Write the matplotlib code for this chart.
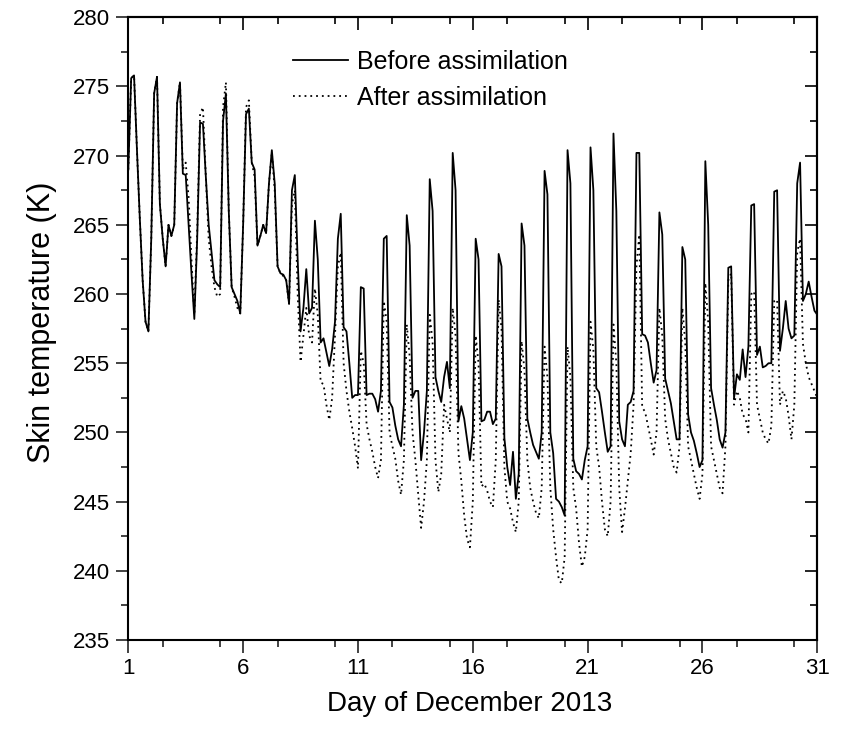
import numpy as np
import matplotlib
matplotlib.use("Agg")
import matplotlib.pyplot as plt
from matplotlib.ticker import MultipleLocator, FixedLocator

plt.rcParams['font.family'] = ['Liberation Sans', 'DejaVu Sans']

# 3-hourly samples, 1 Dec 00:00 to 31 Dec 00:00
start_day = 1
steps_per_day = 8

before_assim = [
    269.0, 275.6, 275.8, 270.5, 265.5, 261.0, 258.0, 257.3,   # day 1
    264.0, 274.5, 275.7, 266.5, 264.0, 262.0, 265.0, 264.2,   # day 2
    265.0, 273.8, 275.3, 268.7, 268.6, 265.0, 261.5, 258.2,   # day 3
    264.0, 272.4, 272.3, 268.5, 265.0, 263.0, 261.0, 260.7,   # day 4
    260.5, 272.5, 274.5, 266.0, 260.5, 260.0, 259.5, 258.6,   # day 5
    265.0, 273.0, 273.4, 269.5, 269.0, 263.5, 264.2, 265.0,   # day 6
    264.4, 268.0, 270.4, 268.0, 262.0, 261.5, 261.4, 261.0,   # day 7
    259.3, 267.5, 268.6, 262.5, 257.3, 259.0, 261.8, 258.6,   # day 8
    259.0, 265.3, 262.5, 256.5, 256.8, 255.8, 254.8, 256.0,   # day 9
    258.0, 264.0, 265.8, 257.6, 257.3, 255.0, 252.5, 252.7,   # day 10
    252.7, 260.5, 260.4, 252.7, 252.8, 252.8, 252.4, 251.5,   # day 11
    253.0, 264.0, 264.2, 252.2, 251.8, 250.5, 249.5, 249.0,   # day 12
    252.0, 265.7, 263.5, 252.5, 253.0, 253.0, 248.0, 250.0,   # day 13
    253.0, 268.3, 266.0, 254.0, 253.0, 252.2, 254.0, 255.1,   # day 14
    253.2, 270.2, 267.5, 250.8, 251.9, 251.0, 249.5, 248.0,   # day 15
    250.0, 264.0, 262.5, 250.8, 250.9, 251.5, 251.5, 250.6,   # day 16
    251.0, 262.9, 262.0, 249.6, 247.5, 246.2, 248.6, 245.2,   # day 17
    247.0, 265.1, 263.5, 251.0, 250.0, 249.1, 248.6, 248.1,   # day 18
    250.0, 268.9, 267.2, 250.0, 248.5, 245.2, 245.0, 244.6,   # day 19
    244.0, 270.4, 268.0, 248.1, 247.2, 247.0, 246.6, 248.0,   # day 20
    249.0, 270.6, 267.5, 253.2, 252.9, 251.5, 250.0, 248.6,   # day 21
    249.0, 271.6, 266.0, 250.8, 249.5, 249.0, 252.0, 252.2,   # day 22
    253.0, 270.2, 270.2, 257.1, 257.0, 256.5, 255.0, 253.6,   # day 23
    254.5, 265.9, 264.3, 253.9, 253.0, 252.1, 250.8, 249.5,   # day 24
    249.5, 263.4, 262.5, 251.3, 250.0, 249.4, 248.5, 247.5,   # day 25
    248.0, 269.6, 265.0, 253.2, 252.0, 250.9, 249.5, 248.9,   # day 26
    250.0, 261.9, 262.0, 252.5, 254.2, 253.8, 256.0, 254.0,   # day 27
    256.2, 266.4, 266.5, 255.6, 256.2, 254.7, 254.8, 255.0,   # day 28
    255.0, 267.4, 267.5, 255.9, 257.5, 259.5, 257.5, 256.8,   # day 29
    257.0, 268.0, 269.5, 259.5, 260.0, 260.9, 259.8, 258.8,   # day 30
    258.5,                                                     # day 31 00:00
]

after_assim = [
    269.0, 275.6, 275.8, 270.5, 265.5, 261.0, 258.0, 257.3,   # day 1
    264.0, 274.5, 275.7, 266.5, 264.0, 262.0, 265.0, 264.2,   # day 2
    265.0, 273.8, 275.3, 269.0, 269.5, 267.0, 262.5, 258.5,   # day 3
    264.5, 273.0, 273.5, 268.5, 264.0, 262.0, 260.5, 259.8,   # day 4
    260.0, 273.5, 275.3, 266.0, 260.5, 259.8, 259.0, 258.6,   # day 5
    265.0, 273.5, 274.0, 269.5, 268.5, 263.5, 264.2, 265.0,   # day 6
    264.4, 268.0, 270.2, 267.5, 262.0, 261.5, 261.3, 261.0,   # day 7
    259.3, 266.5, 267.5, 260.0, 255.1, 257.0, 259.0, 257.0,   # day 8
    256.5, 260.4, 258.5, 253.6, 253.5, 252.0, 250.9, 252.5,   # day 9
    257.0, 262.0, 263.0, 255.0, 253.0, 251.5, 250.3, 249.0,   # day 10
    247.4, 255.9, 255.0, 250.6, 249.5, 248.6, 247.5, 246.7,   # day 11
    248.0, 259.5, 258.0, 250.0, 249.0, 248.1, 246.5, 245.5,   # day 12
    248.0, 257.8, 255.5, 250.0, 248.0, 245.5, 243.1, 245.0,   # day 13
    248.0, 258.5, 256.5, 248.0, 245.7, 247.0, 252.0, 251.0,   # day 14
    250.0, 259.0, 257.0, 248.5, 246.5, 244.0, 242.3, 241.7,   # day 15
    245.0, 257.0, 255.0, 246.1, 246.3, 245.8, 245.0, 244.6,   # day 16
    248.0, 259.6, 257.5, 247.5, 245.0, 244.5, 243.5, 242.8,   # day 17
    245.0, 256.6, 254.5, 248.0, 246.0, 245.0, 244.2, 243.8,   # day 18
    246.0, 256.2, 254.0, 246.0, 243.0, 241.0, 239.3, 239.1,   # day 19
    241.0, 256.2, 254.0, 246.0, 244.5, 242.0, 240.3, 241.0,   # day 20
    243.0, 258.0, 256.0, 249.0, 247.5, 245.0, 243.0, 242.5,   # day 21
    245.0, 257.8, 255.0, 246.0, 242.8, 244.5, 246.5, 248.5,   # day 22
    252.0, 262.0, 264.3, 251.8, 251.5, 250.5, 249.5, 248.4,   # day 23
    250.0, 259.0, 257.0, 251.0, 249.5, 248.5, 247.5, 247.1,   # day 24
    249.0, 259.0, 256.5, 249.0, 248.0, 247.0, 246.0, 245.2,   # day 25
    247.0, 260.8, 258.0, 249.0, 248.0, 247.0, 246.0, 245.6,   # day 26
    249.0, 261.0, 261.5, 252.0, 253.0, 252.5, 251.3, 251.0,   # day 27
    250.0, 260.0, 260.2, 252.0, 251.0, 250.0, 249.5, 249.2,   # day 28
    250.5, 259.5, 259.6, 252.0, 253.0, 252.5, 251.2, 249.5,   # day 29
    252.0, 263.0, 264.0, 256.4, 255.0, 254.0, 253.5, 253.0,   # day 30
    252.5,                                                     # day 31 00:00
]

x_ticks = [1, 6, 11, 16, 21, 26, 31]
y_ticks = [235, 240, 245, 250, 255, 260, 265, 270, 275, 280]
series_labels = ["Before assimilation", "After assimilation"]
x_label = "Day of December 2013"
y_label = "Skin temperature (K)"

day = start_day + np.arange(len(before_assim)) / steps_per_day

W, H = 844, 738
fig = plt.figure(figsize=(W / 100, H / 100), dpi=100)
L, R, T, B = 128.3, 817.3, 17.3, 640.0
ax = fig.add_axes([L / W, 1 - B / H, (R - L) / W, (B - T) / H])

ax.plot(day, before_assim, color='black', lw=1.3, ls='-', label=series_labels[0])
ax.plot(day, after_assim, color='black', lw=1.3, ls=(0, (1, 2.2)), label=series_labels[1])

ax.set_xlim(1, 31)
ax.set_ylim(235, 280)
ax.xaxis.set_major_locator(FixedLocator(x_ticks))
ax.xaxis.set_minor_locator(MultipleLocator(2.5))
ax.yaxis.set_major_locator(FixedLocator(y_ticks))
ax.yaxis.set_minor_locator(MultipleLocator(2.5))
ax.tick_params(which='major', direction='out', length=9, width=1.2, labelsize=16, pad=4, color='#222222')
ax.tick_params(which='minor', direction='out', length=5, width=1.2, color='#222222')
for s in ax.spines.values():
    s.set_linewidth(1.5)

# mirrored inward ticks on top and right
top = ax.secondary_xaxis('top')
top.xaxis.set_major_locator(FixedLocator(x_ticks))
top.xaxis.set_minor_locator(MultipleLocator(2.5))
top.tick_params(which='major', direction='in', length=9, width=1.2, labeltop=False)
top.tick_params(which='minor', direction='in', length=5, width=1.2)
top.spines['top'].set_linewidth(1.5)
right = ax.secondary_yaxis('right')
right.yaxis.set_major_locator(FixedLocator(y_ticks))
right.yaxis.set_minor_locator(MultipleLocator(2.5))
right.tick_params(which='major', direction='in', length=9, width=1.2, labelright=False)
right.tick_params(which='minor', direction='in', length=5, width=1.2)
right.spines['right'].set_linewidth(1.5)

ax.legend(frameon=False, loc='upper left', bbox_to_anchor=(0.239, 0.948),
          fontsize=18, handlelength=2.2, handletextpad=0.36, borderpad=0,
          borderaxespad=0, labelspacing=0.5)

fig.text(42 / W, 1 - 322 / H, y_label, rotation=90, ha='center', va='center', fontsize=22)
fig.text(470 / W, 1 - 704 / H, x_label, ha='center', va='center', fontsize=20)

fig.savefig('out.png', dpi=100)
